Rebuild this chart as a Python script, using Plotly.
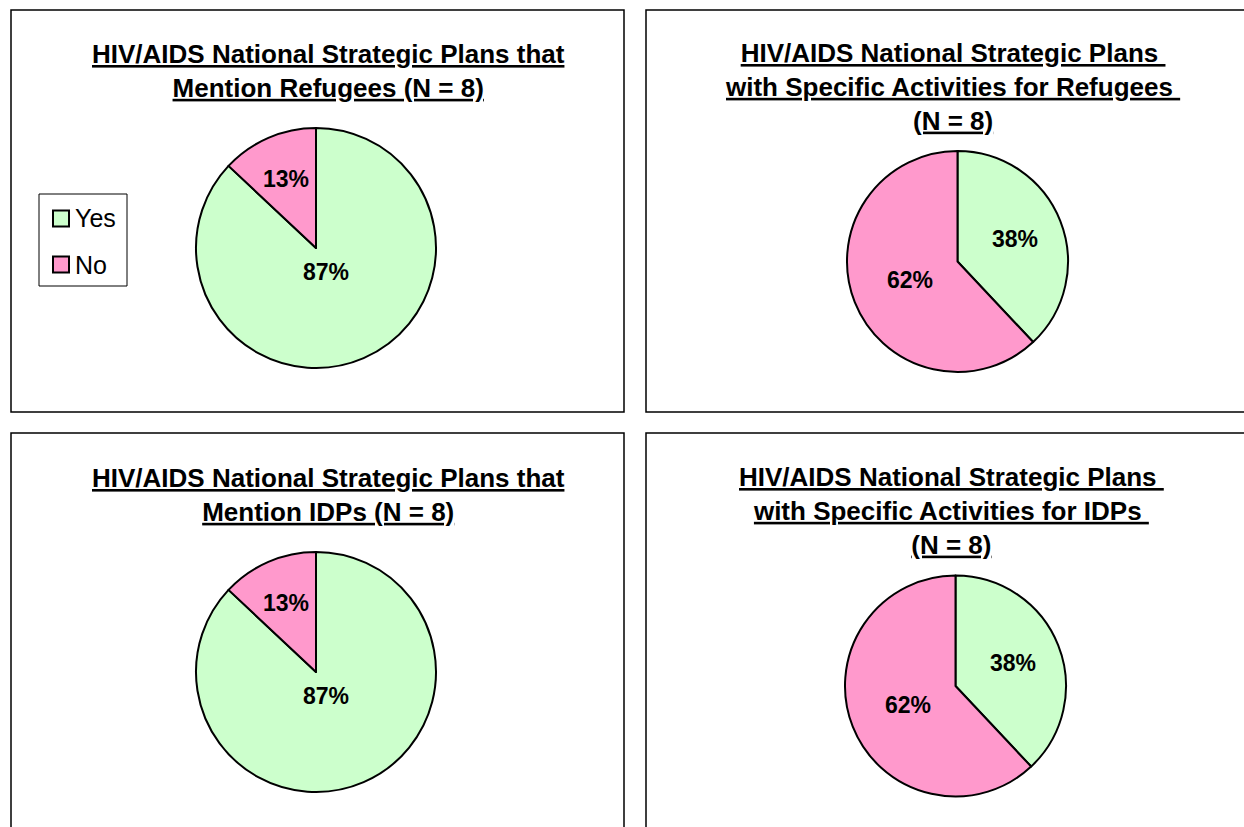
import math
import plotly.graph_objects as go

W, H = 1244, 827

categories = ["Yes", "No"]
titles = [
    "HIV/AIDS National Strategic Plans that<br>Mention Refugees (N = 8)",
    "HIV/AIDS National Strategic Plans <br>with Specific Activities for Refugees <br>(N = 8)",
    "HIV/AIDS National Strategic Plans that<br>Mention IDPs (N = 8)",
    "HIV/AIDS National Strategic Plans <br>with Specific Activities for IDPs <br>(N = 8)",
]
mention_refugees = [87, 13]
activities_refugees = [38, 62]
mention_idps = [87, 13]
activities_idps = [38, 62]
series = [mention_refugees, activities_refugees, mention_idps, activities_idps]

colors = ["#CCFFCC", "#FF99CC"]
FONT = "Liberation Sans, Arial, sans-serif"

# layout (pixels): pie centre/radius, title anchor, label radial fractions
pies = [(316, 248, 120), (957.5, 261.5, 110.5), (316, 672, 120), (955.5, 686, 110.5)]
title_pos = [(328.5, 37), (953, 36), (328.5, 461), (951.5, 460)]
label_frac = [[0.22, 0.63], [0.555, 0.465], [0.22, 0.63], [0.555, 0.465]]


def px_x(x):
    return x / W


def px_y(y):
    return 1 - y / H


fig = go.Figure()
annotations = []

for vals, (cx, cy, r), fr in zip(series, pies, label_frac):
    fig.add_trace(go.Pie(
        labels=categories,
        values=vals,
        sort=False,
        direction="clockwise",
        rotation=0,
        marker=dict(colors=colors, line=dict(color="black", width=2)),
        textinfo="none",
        domain=dict(x=[px_x(cx - r), px_x(cx + r)], y=[px_y(cy + r), px_y(cy - r)]),
        showlegend=False,
        hoverinfo="label+percent",
    ))
    total = sum(vals)
    start = 0.0
    for v, f in zip(vals, fr):
        mid = (start + v / 2) / total * 2 * math.pi
        start += v
        lx = cx + f * r * math.sin(mid)
        ly = cy - f * r * math.cos(mid)
        annotations.append(dict(text=f"<b>{v}%</b>", xref="paper", yref="paper",
                                x=px_x(lx), y=px_y(ly), xanchor="center", yanchor="middle",
                                showarrow=False,
                                font=dict(family=FONT, size=23, color="black")))

shapes = []
# panel borders
panels = [(11, 10, 624, 412), (646, 10, 1300, 412), (11, 433, 624, 900), (646, 433, 1300, 900)]
for x0, y0, x1, y1 in panels:
    shapes.append(dict(type="rect", xref="paper", yref="paper",
                       x0=px_x(x0), x1=px_x(x1), y0=px_y(y1), y1=px_y(y0),
                       line=dict(color="black", width=1.5), fillcolor="rgba(0,0,0,0)"))

# legend box
shapes.append(dict(type="rect", xref="paper", yref="paper",
                   x0=px_x(39), x1=px_x(127), y0=px_y(286), y1=px_y(194),
                   line=dict(color="black", width=1)))
leg_y = [218.5, 264.5]
for c, ly in zip(colors, leg_y):
    shapes.append(dict(type="rect", xref="paper", yref="paper",
                       x0=px_x(53), x1=px_x(69), y0=px_y(ly + 8), y1=px_y(ly - 8),
                       line=dict(color="black", width=2), fillcolor=c))

for t, (tx, ty) in zip(titles, title_pos):
    annotations.append(dict(text="<b><u>" + t.replace("<br>", "</u></b><br><b><u>") + "</u></b>",
                            xref="paper", yref="paper", x=px_x(tx), y=px_y(ty),
                            xanchor="center", yanchor="top", showarrow=False,
                            font=dict(family=FONT, size=26, color="black")))
for lab, ly in zip(categories, leg_y):
    annotations.append(dict(text=lab, xref="paper", yref="paper", x=px_x(73), y=px_y(ly),
                            xanchor="left", yanchor="middle", showarrow=False,
                            font=dict(family=FONT, size=25, color="black")))

fig.update_layout(
    width=W, height=H,
    margin=dict(l=0, r=0, t=0, b=0),
    paper_bgcolor="white", plot_bgcolor="white",
    shapes=shapes, annotations=annotations,
    showlegend=False,
)

fig.write_html("out.html", config={"displayModeBar": False},
               post_script="document.body.style.margin='0';document.body.style.overflow='hidden';")
